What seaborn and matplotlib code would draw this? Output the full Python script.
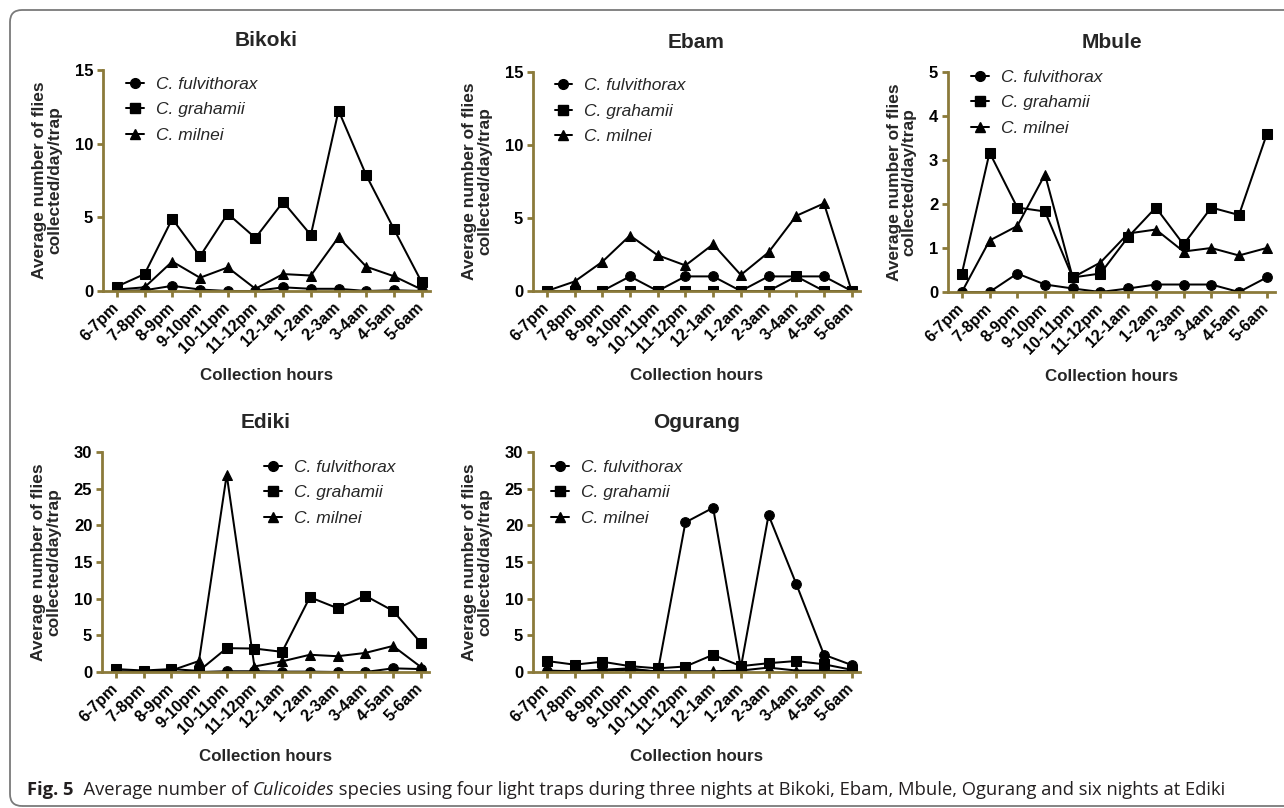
import matplotlib
matplotlib.use("Agg")
import matplotlib.pyplot as plt
import matplotlib.transforms as mtransforms
from matplotlib.lines import Line2D
from matplotlib.patches import FancyBboxPatch
import pandas as pd
import seaborn as sns

hours = ["6-7pm", "7-8pm", "8-9pm", "9-10pm", "10-11pm", "11-12pm",
         "12-1am", "1-2am", "2-3am", "3-4am", "4-5am", "5-6am"]
species = ["C. fulvithorax", "C. grahamii", "C. milnei"]

bikoki_fulvithorax = [0.0, 0.05, 0.35, 0.1, 0.0, 0.0, 0.25, 0.15, 0.15, 0.0, 0.05, 0.0]
bikoki_grahamii = [0.3, 1.15, 4.9, 2.35, 5.25, 3.6, 6.05, 3.8, 12.25, 7.85, 4.2, 0.6]
bikoki_milnei = [0.1, 0.25, 2.0, 0.9, 1.6, 0.15, 1.15, 1.05, 3.65, 1.65, 1.0, 0.1]

ebam_fulvithorax = [0, 0, 0, 1, 0, 1, 1, 0, 1, 1, 1, 0]
ebam_grahamii = [0, 0, 0, 0, 0, 0, 0, 0, 0, 1, 0, 0]
ebam_milnei = [0, 0.65, 2.0, 3.8, 2.45, 1.75, 3.2, 1.1, 2.65, 5.15, 6.0, 0]

mbule_fulvithorax = [0, 0, 0.42, 0.17, 0.08, 0, 0.08, 0.17, 0.17, 0.17, 0, 0.33]
mbule_grahamii = [0.42, 3.17, 1.92, 1.83, 0.33, 0.42, 1.25, 1.92, 1.08, 1.92, 1.75, 3.58]
mbule_milnei = [0, 1.17, 1.5, 2.67, 0.33, 0.67, 1.33, 1.42, 0.92, 1.0, 0.83, 1.0]

ediki_fulvithorax = [0, 0, 0, 0, 0.1, 0.1, 0.05, 0.05, 0, 0, 0.5, 0.4]
ediki_grahamii = [0.4, 0.2, 0.4, 0.15, 3.25, 3.2, 2.75, 10.2, 8.7, 10.4, 8.35, 4.0]
ediki_milnei = [0.1, 0.1, 0.2, 1.5, 26.9, 0.75, 1.45, 2.35, 2.15, 2.6, 3.55, 0.7]

ogurang_fulvithorax = [0.2, 0.1, 0.3, 0.5, 0.0, 20.4, 22.4, 0.6, 21.4, 12.0, 2.35, 0.95]
ogurang_grahamii = [1.5, 1.0, 1.4, 0.8, 0.5, 0.75, 2.35, 0.8, 1.2, 1.5, 1.05, 0.3]
ogurang_milnei = [0.1, 0.1, 0.2, 0.3, 0.1, 0.1, 0.1, 0.2, 0.6, 0.2, 0.2, 0.1]

sites = {
    "Bikoki": [bikoki_fulvithorax, bikoki_grahamii, bikoki_milnei],
    "Ebam": [ebam_fulvithorax, ebam_grahamii, ebam_milnei],
    "Mbule": [mbule_fulvithorax, mbule_grahamii, mbule_milnei],
    "Ediki": [ediki_fulvithorax, ediki_grahamii, ediki_milnei],
    "Ogurang": [ogurang_fulvithorax, ogurang_grahamii, ogurang_milnei],
}

# layout in pixels: left, top, height of the axes, y max, y step, legend anchor
panels = {
    "Bikoki": (103, 70, 221, 15, 5, (0.045, 1.01)),
    "Ebam": (533, 72, 219, 15, 5, (0.04, 1.012)),
    "Mbule": (948, 72, 220, 5, 1, (0.045, 1.05)),
    "Ediki": (102, 452, 220, 30, 5, (0.47, 1.005)),
    "Ogurang": (533, 452, 220, 30, 5, (0.03, 1.005)),
}

W, H = 1284, 808
AX_W = 327
OLIVE = "#8b7a3a"
markers = {"C. fulvithorax": "o", "C. grahamii": "s", "C. milnei": "^"}

sns.set_theme(style="ticks")
plt.rcParams["font.family"] = ["Liberation Sans", "DejaVu Sans"]

fig = plt.figure(figsize=(W / 100, H / 100), dpi=100)

for site, (left, top, height, ymax, ystep, leg_xy) in panels.items():
    ax = fig.add_axes([left / W, 1 - (top + height) / H, AX_W / W, height / H])
    df = pd.DataFrame({
        "hour": hours * 3,
        "value": [v for series in sites[site] for v in series],
        "species": [s for s in species for _ in hours],
    })
    sns.lineplot(
        data=df, x="hour", y="value", style="species", markers=markers,
        dashes=False, color="black", linewidth=1.45, markersize=7,
        markeredgecolor="black", legend=False, sort=False, ax=ax,
    )
    ax.set_xlim(-0.5, 11.3)
    ax.set_ylim(0, ymax)
    ax.set_yticks(range(0, ymax + 1, ystep))
    ax.set_xticks(range(len(hours)))
    ax.set_xticklabels(hours, rotation=45, ha="right", va="center",
                       rotation_mode="anchor")
    for lbl in ax.get_xticklabels():
        lbl.set_fontweight("bold")
        lbl.set_fontsize(11.5)
    for lbl in ax.get_yticklabels():
        lbl.set_fontweight("bold")
        lbl.set_fontsize(12)
    ax.tick_params(axis="both", color=OLIVE, width=2, length=4, colors="black")
    ax.tick_params(axis="x", pad=6)
    ax.tick_params(axis="y", pad=3)
    for sp in ["top", "right"]:
        ax.spines[sp].set_visible(False)
    for sp in ["left", "bottom"]:
        ax.spines[sp].set_color(OLIVE)
        ax.spines[sp].set_linewidth(2)
    ax.grid(False)

    ax.set_title(site, fontsize=15, fontweight="bold", pad=17)
    ax.set_ylabel("Average number of flies\ncollected/day/trap", fontsize=12.5,
                  fontweight="bold", labelpad=9, linespacing=1.0)
    ax.set_xlabel("Collection hours", fontsize=12.2, fontweight="bold")
    ax.xaxis.set_label_coords(0.5, -77 / height)

    handles = [Line2D([], [], color="black", lw=1.45, marker=markers[s],
                      markersize=7, label=s) for s in species]
    ax.legend(handles=handles, loc="upper left", bbox_to_anchor=leg_xy,
              frameon=False, borderpad=0, handlelength=1.0, handletextpad=0.7,
              labelspacing=0.6, prop={"style": "italic", "size": 12.5})

# rounded frame around the figure
frame = FancyBboxPatch((10, H - 806), 1300, 796,
                       boxstyle="round,pad=0,rounding_size=12",
                       transform=mtransforms.IdentityTransform(),
                       fill=False, ec="#7a7a7a", lw=1.3, clip_on=False)
fig.add_artist(frame)

# caption, written in pieces and fitted to the reference width
pieces = [
    ("Fig. 5", "bold", "normal"),
    ("  Average number of ", "normal", "normal"),
    ("Culicoides", "normal", "italic"),
    (" species using four light traps during three nights at Bikoki, Ebam, "
     "Mbule, Ogurang and six nights at Ediki", "normal", "normal"),
]
renderer = fig.canvas.get_renderer()
cap_left, cap_right, size = 27, 1222, 13.0
for attempt in range(2):
    texts = []
    x = cap_left / W
    for text, weight, style in pieces:
        t = fig.text(x, 1 - 790 / H, text, fontsize=size, fontweight=weight,
                     fontstyle=style, family=["Open Sans", "DejaVu Sans"],
                     va="center", ha="left", color="#231f20")
        x = t.get_window_extent(renderer).x1 / W
        texts.append(t)
    if attempt == 0:
        size *= (cap_right - cap_left) / (x * W - cap_left)
        for t in texts:
            t.remove()

fig.savefig("out.png", dpi=100)
